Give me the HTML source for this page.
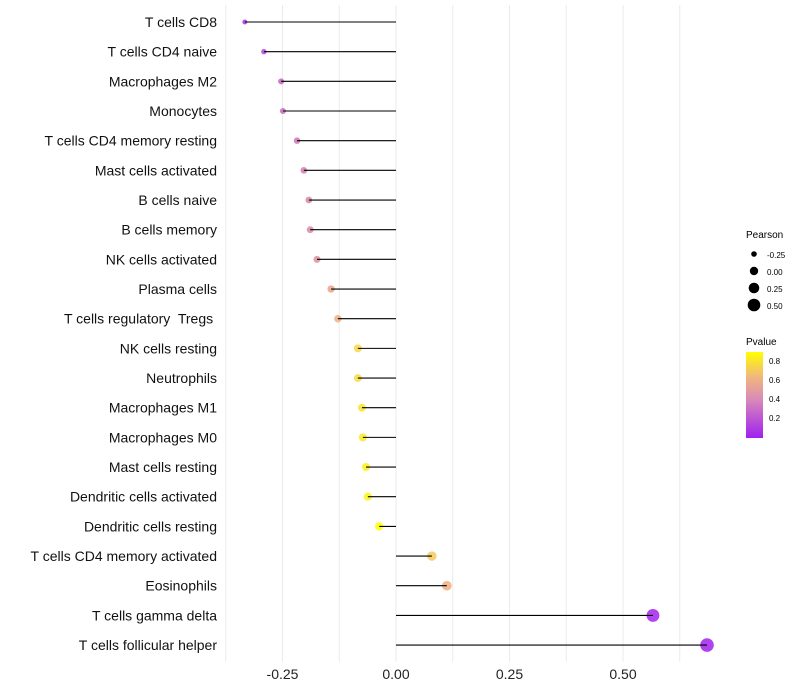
<!DOCTYPE html>
<html><head><meta charset="utf-8"><style>body{margin:0;background:#fff}svg{display:block;font-family:"Liberation Sans",sans-serif}</style></head>
<body>
<svg id="chart" width="800" height="700">
<defs><linearGradient id="pgrad" x1="0" y1="1" x2="0" y2="0">
<stop offset="0" stop-color="#a020f0"/><stop offset="0.45" stop-color="#d98ab8"/><stop offset="0.72" stop-color="#f2b87a"/><stop offset="1" stop-color="#ffff00"/></linearGradient></defs>
<g id="grid"></g><g id="marks"></g><g id="labels"></g>
<g>
<text x="746" y="238" font-size="10">Pearson</text>
<circle cx="754" cy="254" r="2.8" fill="#000"/><text x="767" y="258" font-size="8">-0.25</text>
<circle cx="754" cy="271" r="4.2" fill="#000"/><text x="767" y="275" font-size="8">0.00</text>
<circle cx="754" cy="288" r="5.3" fill="#000"/><text x="767" y="292" font-size="8">0.25</text>
<circle cx="754" cy="305" r="6.3" fill="#000"/><text x="767" y="309" font-size="8">0.50</text>
</g>
<g>
<text x="746" y="345" font-size="10">Pvalue</text>
<rect x="746" y="352" width="17" height="86" fill="url(#pgrad)"/>
<text x="769" y="364" font-size="8">0.8</text><text x="769" y="383" font-size="8">0.6</text>
<text x="769" y="402" font-size="8">0.4</text><text x="769" y="421" font-size="8">0.2</text>
</g>
</svg>
<script>
const cats=["T cells CD8","T cells CD4 naive","Macrophages M2","Monocytes","T cells CD4 memory resting","Mast cells activated","B cells naive","B cells memory","NK cells activated","Plasma cells","T cells regulatory  Tregs ","NK cells resting","Neutrophils","Macrophages M1","Macrophages M0","Mast cells resting","Dendritic cells activated","Dendritic cells resting","T cells CD4 memory activated","Eosinophils","T cells gamma delta","T cells follicular helper"];
const pearson=[-0.333,-0.291,-0.253,-0.249,-0.218,-0.203,-0.192,-0.189,-0.174,-0.143,-0.128,-0.084,-0.084,-0.075,-0.073,-0.066,-0.062,-0.037,0.079,0.112,0.566,0.685];
const pvals=[0.08,0.17,0.28,0.3,0.35,0.38,0.42,0.43,0.46,0.55,0.6,0.75,0.76,0.8,0.81,0.83,0.85,0.9,0.7,0.6,0.02,0.01];
const ticks=[-0.25,0,0.25,0.5];
const NS="http://www.w3.org/2000/svg";
const x=v=>396+v*454, y=i=>22+i*29.67;
function mk(t,a,p){const e=document.createElementNS(NS,t);for(const k in a)e.setAttribute(k,a[k]);p.appendChild(e);return e;}
const stops=[[0,[160,32,240]],[0.4,[214,130,172]],[0.64,[242,184,122]],[0.89,[255,255,0]]];
function col(p){p=Math.max(0,Math.min(0.89,p));for(let i=0;i<stops.length-1;i++){const[a,ca]=stops[i],[b,cb]=stops[i+1];if(p<=b){const t=(p-a)/(b-a);return "rgb("+ca.map((c,j)=>Math.round(c+(cb[j]-c)*t)).join(",")+")";}}return "rgb(255,255,0)";}
const rad=v=>Math.sqrt(6+(v+0.333)/(1.018)*40);
const g=document.getElementById('grid'),m=document.getElementById('marks'),l=document.getElementById('labels');
for(let v=-0.375;v<=0.626;v+=0.125){const ln=mk('line',{x1:x(v),x2:x(v),y1:5,y2:662,stroke:"#ebebeb","stroke-width":1},g);

}
ticks.forEach(t=>{const e=mk('text',{x:x(t),y:679,"font-size":14,"text-anchor":"middle",fill:"#222"},l);e.textContent=t.toFixed(2);

});
cats.forEach((c,i)=>{
const d=mk('circle',{cx:x(pearson[i]),cy:y(i),r:rad(pearson[i]),fill:col(pvals[i]),"fill-opacity":0.85},m);


const ln=mk('line',{x1:x(0),x2:x(pearson[i]),y1:y(i),y2:y(i),stroke:"#000","stroke-width":1.1},m);


const t=mk('text',{x:217,y:y(i)+5,"font-size":14,"text-anchor":"end",fill:"#111","xml:space":"preserve"},l);t.setAttribute('style','white-space:pre');t.textContent=c;


});
</script>
</body></html>
